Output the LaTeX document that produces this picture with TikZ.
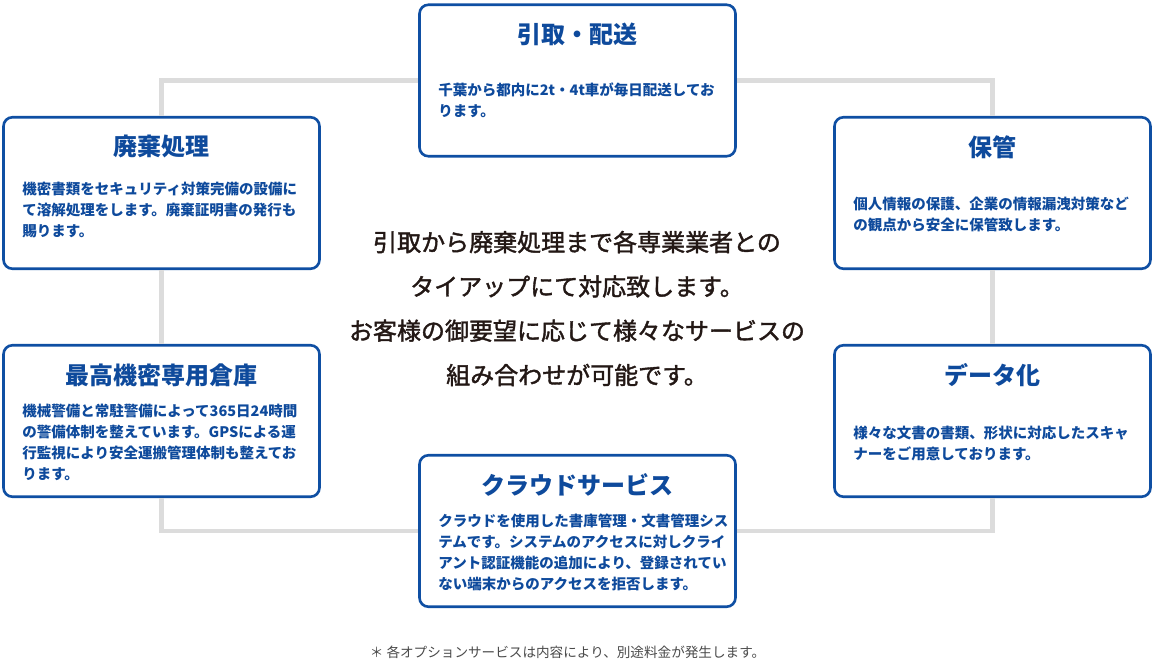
\documentclass[tikz,border=0pt]{standalone}
\usepackage{fontspec}
\setmainfont{Noto Sans CJK JP}
\newfontfamily\medfont{Noto Sans CJK JP}[FakeBold=1.6]
\usetikzlibrary{positioning}
\definecolor{boxblue}{HTML}{0F4FA3}
\definecolor{textblue}{HTML}{0E4A9C}
\definecolor{linegray}{HTML}{DCDCDC}
\definecolor{msgdark}{HTML}{231815}
\definecolor{notegray}{HTML}{4A4A4A}

\begin{document}
\begin{tikzpicture}[x=1pt,y=-1pt,
  box/.style={draw=boxblue,line width=2.6pt,rounded corners=9pt,fill=white,minimum width=316pt,minimum height=151.5pt,inner sep=0pt},
  ttl/.style={text=textblue,inner sep=0pt,font=\fontsize{24}{24}\selectfont\bfseries},
  desc/.style={text=textblue,inner sep=0pt,anchor=north west,align=left,font=\fontsize{14.5}{21}\selectfont\bfseries},
  link/.style={draw=linegray,line width=4.5pt}]
\useasboundingbox (0,0) rectangle (1154,661);

\node[box] (hikitori) at (577.5,80.5) {};
\node[box] (haiki) at (161.5,193) {};
\node[box] (hokan) at (992.5,193) {};
\node[box] (souko) at (161.5,421) {};
\node[box] (data) at (992.5,421) {};
\node[box] (cloud) at (577.5,531) {};

\draw[link] (hikitori.west) -| (haiki.north);
\draw[link] (haiki.south) -- (souko.north);
\draw[link] (souko.south) |- (cloud.west);
\draw[link] (cloud.east) -| (data.south);
\draw[link] (data.north) -- (hokan.south);
\draw[link] (hokan.north) |- (hikitori.east);

\node[ttl] (hikitori-t) at ([yshift=-31pt]hikitori.north) {引取・配送};
\node[ttl] (haiki-t) at ([yshift=-31pt]haiki.north) {廃棄処理};
\node[ttl] (hokan-t) at ([yshift=-31pt]hokan.north) {保管};
\node[ttl] (souko-t) at ([yshift=-31pt]souko.north) {最高機密専用倉庫};
\node[ttl] (data-t) at ([yshift=-31pt]data.north) {データ化};
\node[ttl] (cloud-t) at ([yshift=-31pt]cloud.north) {クラウドサービス};

\node[desc] (hikitori-d) at ([xshift=20pt,yshift=-79pt]hikitori.north west) {千葉から都内に2t・4t車が毎日配送してお\\ります。};
\node[desc] (haiki-d) at ([xshift=20pt,yshift=-66pt]haiki.north west) {機密書類をセキュリティ対策完備の設備に\\て溶解処理をします。廃棄証明書の発行も\\賜ります。};
\node[desc] (hokan-d) at ([xshift=20pt,yshift=-81pt]hokan.north west) {個人情報の保護、企業の情報漏洩対策など\\の観点から安全に保管致します。};
\node[desc] (souko-d) at ([xshift=20pt,yshift=-60pt]souko.north west) {機械警備と常駐警備によって365日24時間\\の警備体制を整えています。GPSによる運\\行監視により安全運搬管理体制も整えてお\\ります。};
\node[desc] (data-d) at ([xshift=20pt,yshift=-82pt]data.north west) {様々な文書の書類、形状に対応したスキャ\\ナーをご用意しております。};
\node[desc] (cloud-d) at ([xshift=20pt,yshift=-60pt]cloud.north west) {クラウドを使用した書庫管理・文書管理シス\\テムです。システムのアクセスに対しクライ\\アント認証機能の追加により、登録されてい\\ない端末からのアクセスを拒否します。};

\node[text=msgdark,align=center,inner sep=0pt,font=\fontsize{24}{44.3}\selectfont\medfont] (msg) at (577,308.5) {引取から廃棄処理まで各専業業者との\\タイアップにて対応致します。\\お客様の御要望に応じて様々なサービスの\\組み合わせが可能です。};
\node[text=notegray,inner sep=0pt,font=\fontsize{13.6}{16}\selectfont] (note) at (567.5,652) {＊ 各オプションサービスは内容により、別途料金が発生します。};
\end{tikzpicture}
\end{document}
